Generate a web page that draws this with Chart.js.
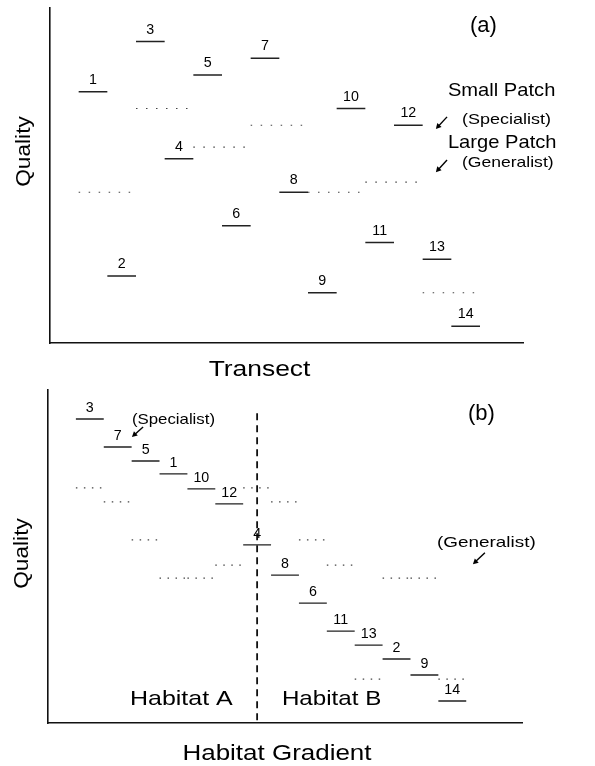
<!DOCTYPE html>
<html><head><meta charset="utf-8">
<script src="https://cdn.jsdelivr.net/npm/chart.js@4/dist/chart.umd.min.js"></script>
<style>
html,body{margin:0;padding:0;background:#fff;}
#wrap{position:relative;width:595px;height:766px;overflow:hidden;}
canvas{position:absolute;left:0;}
</style></head><body>
<div id="wrap">
<canvas id="transect" style="top:0;width:595px;height:380px"></canvas>
<canvas id="gradient" style="top:380px;width:595px;height:386px"></canvas>
</div>
<script>
// ---- Panel (a): patches along the transect ----
const patchIds = [1,2,3,4,5,6,7,8,9,10,11,12,13,14];
// quality of each small patch (what a specialist sees)
const smallPatchQuality = [75,20,90,55,80,35,85,45,15,70,30,65,25,5];
// large patches are consecutive pairs of small patches (what a generalist sees)
const largePatchPairs = [[1,2],[3,4],[5,6],[7,8],[9,10],[11,12],[13,14]];
const largePatchQuality = [45,70,58.5,65,45,48,15];

// ---- Panel (b): the same patches ranked along the habitat gradient ----
const gradientOrder = [3,7,5,1,10,12,4,8,6,11,13,2,9,14];
const gradientSmallQuality = [91.3,82.9,78.7,74.8,70.3,65.8,53.5,44.4,36,27.6,23.4,19.2,14.4,6.6];
const gradientLargeQuality = [70.6,66.4,55,43.5,43.5,47.4,70.6,66.4,55,47.4,13.2,43.5,43.5,13.2];
const habitatBoundary = 6.5;   // position on the gradient splitting habitat A from B

const INK = '#000';
const SANS = '"Liberation Sans", Arial, Helvetica, sans-serif';

// turn a list of [x0, x1, y] pieces into one broken line
function pieces(list) {
  const pts = [];
  list.forEach(([x0, x1, y], i) => {
    if (i) pts.push({x: x0, y: null});
    pts.push({x: x0, y}, {x: x1, y});
  });
  return pts;
}

function txt(ctx, s, x, y, o) {
  ctx.save();
  ctx.font = (o.weight || '') + ' ' + o.size + 'px ' + SANS;
  ctx.fillStyle = INK;
  ctx.textAlign = o.align || 'left';
  ctx.textBaseline = 'alphabetic';
  ctx.translate(x, y);
  if (o.rotate) ctx.rotate(o.rotate);
  ctx.scale(o.sx || 1, 1);
  ctx.fillText(s, 0, 0);
  ctx.restore();
}

function arrow(ctx, x0, y0, x1, y1) {
  const a = Math.atan2(y1 - y0, x1 - x0), h = 6;
  ctx.save();
  ctx.strokeStyle = INK; ctx.fillStyle = INK; ctx.lineWidth = 1.4;
  ctx.beginPath(); ctx.moveTo(x0, y0); ctx.lineTo(x1 - Math.cos(a) * 3, y1 - Math.sin(a) * 3); ctx.stroke();
  ctx.beginPath();
  ctx.moveTo(x1, y1);
  ctx.lineTo(x1 - h * Math.cos(a - 0.5), y1 - h * Math.sin(a - 0.5));
  ctx.lineTo(x1 - h * Math.cos(a + 0.5), y1 - h * Math.sin(a + 0.5));
  ctx.closePath(); ctx.fill();
  ctx.restore();
}

// labels, notes, arrows and axis titles, all placed through the chart's scales
const sketchText = {
  id: 'sketchText',
  afterDatasetsDraw(chart, args, opts) {
    const {ctx, scales: {x, y}, chartArea: ca} = chart;
    (opts.labels || []).forEach(l => {
      txt(ctx, String(l.text), x.getPixelForValue(l.x), y.getPixelForValue(l.y) - opts.labelGap, {size: 15, align: 'center', sx: 0.95});
    });
    (opts.notes || []).forEach(n => {
      txt(ctx, n.text, x.getPixelForValue(n.x), y.getPixelForValue(n.y), {size: n.size, sx: n.sx});
    });
    (opts.arrows || []).forEach(a => {
      arrow(ctx, x.getPixelForValue(a[0]), y.getPixelForValue(a[1]), x.getPixelForValue(a[2]), y.getPixelForValue(a[3]));
    });
    const t = opts.titles;
    txt(ctx, t.y, ca.left - 20, (ca.top + ca.bottom) / 2 + t.yShift, {size: 21, align: 'center', rotate: -Math.PI / 2, sx: 1.08});
    txt(ctx, t.x, (ca.left + ca.right) / 2 + t.xShift, chart.height - t.xBase, {size: 22, align: 'center', sx: t.xScale});
  }
};

function baseScales(xMin, xMax, xH, yW) {
  const common = {
    grid: {display: false},
    ticks: {display: false},
    border: {display: true, color: '#111', width: 1.6}
  };
  return {
    x: Object.assign({type: 'linear', min: xMin, max: xMax, afterFit: s => { s.height = xH; }}, common),
    y: Object.assign({type: 'linear', min: 0, max: 100, afterFit: s => { s.width = yW; }}, common)
  };
}

const solid = {borderColor: '#222', borderWidth: 1.4, pointRadius: 0, spanGaps: false, tension: 0};
const dotted = {borderColor: '#444', borderWidth: 1.2, pointRadius: 0, spanGaps: false, tension: 0, borderCapStyle: 'butt'};

// ---- panel (a) ----
const smallA = patchIds.map((id, i) => [i, i + 1, smallPatchQuality[i]]);
const largeA = largePatchPairs.map((p, k) => [p[0] - 1, p[1], largePatchQuality[k]]);

new Chart(document.getElementById('transect'), {
  type: 'line',
  data: {datasets: [
    Object.assign({label: 'Small patch', data: pieces(smallA)}, solid),
    Object.assign({label: 'Large patch', data: pieces(largeA), borderDash: [1.5, 8.5]}, dotted)
  ]},
  options: {
    responsive: false, animation: false, devicePixelRatio: 1,
    layout: {padding: {top: 8, right: 72, left: 0, bottom: 0}},
    scales: baseScales(-1, 15.5, 37, 50),
    plugins: {
      legend: {display: false}, tooltip: {enabled: false},
      sketchText: {
        labelGap: 8,
        labels: patchIds.map((id, i) => ({text: id, x: i + 0.5, y: smallPatchQuality[i]})),
        notes: [
          {text: '(a)', x: 13.65, y: 92.8, size: 22},
          {text: 'Small Patch', x: 12.88, y: 73.7, size: 19, sx: 1.06},
          {text: '(Specialist)', x: 13.37, y: 65.4, size: 15, sx: 1.2},
          {text: 'Large Patch', x: 12.88, y: 58.2, size: 19, sx: 1.06},
          {text: '(Generalist)', x: 13.37, y: 52.5, size: 15, sx: 1.17}
        ],
        arrows: [[12.85, 67.5, 12.46, 63.9], [12.85, 54.6, 12.46, 51.0]],
        titles: {y: 'Quality', x: 'Transect', yShift: -24, xShift: -27, xBase: 4, xScale: 1.2}
      }
    }
  },
  plugins: [sketchText]
});

// ---- panel (b) ----
const smallB = gradientOrder.map((id, p) => [p, p + 1, gradientSmallQuality[p]]);
const largeB = gradientOrder.map((id, p) => [p, p + 1, gradientLargeQuality[p]]);

new Chart(document.getElementById('gradient'), {
  type: 'line',
  data: {datasets: [
    Object.assign({label: 'Small patch', data: pieces(smallB)}, solid),
    Object.assign({label: 'Large patch', data: pieces(largeB), borderDash: [1.5, 6.5]}, dotted),
    {label: 'Habitat boundary', data: [{x: habitatBoundary, y: 93}, {x: habitatBoundary, y: 0}],
     borderColor: '#111', borderWidth: 1.8, borderDash: [7, 5], pointRadius: 0}
  ]},
  options: {
    responsive: false, animation: false, devicePixelRatio: 1,
    layout: {padding: {top: 10, right: 73, left: 0, bottom: 0}},
    scales: baseScales(-1, 16, 43, 48),
    plugins: {
      legend: {display: false}, tooltip: {enabled: false},
      sketchText: {
        labelGap: 7,
        labels: gradientOrder.map((id, p) => ({text: id, x: p + 0.5, y: gradientSmallQuality[p]})),
        notes: [
          {text: '(b)', x: 14.06, y: 91, size: 22},
          {text: '(Specialist)', x: 2.01, y: 89.8, size: 15, sx: 1.12},
          {text: '(Generalist)', x: 12.95, y: 52.9, size: 15, sx: 1.26},
          {text: 'Habitat A', x: 1.94, y: 5.4, size: 21, sx: 1.19},
          {text: 'Habitat B', x: 7.39, y: 5.4, size: 21, sx: 1.15}
        ],
        arrows: [[2.41, 88.9, 2.01, 85.9], [14.67, 51.1, 14.24, 47.7]],
        titles: {y: 'Quality', x: 'Habitat Gradient', yShift: -3, xShift: -8, xBase: 6, xScale: 1.18}
      }
    }
  },
  plugins: [sketchText]
});
</script>
</body></html>
